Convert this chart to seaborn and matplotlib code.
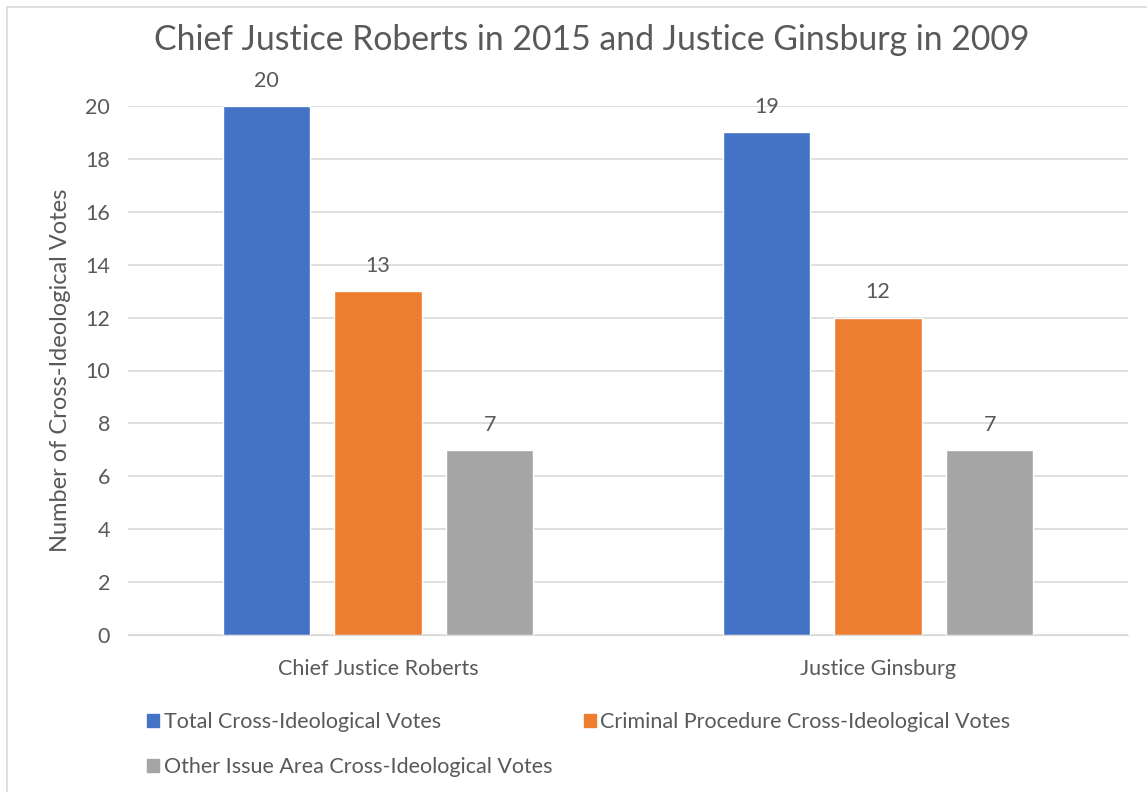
import pandas as pd
import numpy as np
import matplotlib
matplotlib.use("Agg")
import matplotlib.pyplot as plt
import seaborn as sns
from matplotlib.patches import Rectangle, Patch

# ---------------- data ----------------
justices = ["Chief Justice Roberts", "Justice Ginsburg"]
series = ["Total Cross-Ideological Votes",
          "Criminal Procedure Cross-Ideological Votes",
          "Other Issue Area Cross-Ideological Votes"]
total_votes = [20, 19]
criminal_votes = [13, 12]
other_votes = [7, 7]
colors = ["#4472C4", "#ED7D31", "#A5A5A5"]

rows = []
for s, vals in zip(series, [total_votes, criminal_votes, other_votes]):
    for j, v in zip(justices, vals):
        rows.append({"Justice": j, "Series": s, "Votes": v})
df = pd.DataFrame(rows)

# ---------------- plot ----------------
sns.set_style("white")
plt.rcParams["font.family"] = ["Lato", "DejaVu Sans"]
text_col = "#595959"
fs = 15.5

fig = plt.figure(figsize=(11.47, 7.92), dpi=100)
ax = fig.add_axes([128 / 1147, 1 - 635 / 792, 1000 / 1147, (635 - 106) / 792])

sns.barplot(data=df, x="Justice", y="Votes", hue="Series", order=justices,
            hue_order=series, palette=colors, width=0.67, gap=0.22,
            saturation=1, legend=False, ax=ax)

for c in ax.containers:
    ax.bar_label(c, padding=11, fontsize=fs, color=text_col)

ax.set_ylim(0, 20)
ax.set_yticks(range(0, 21, 2))
ax.yaxis.grid(True, color="#d9d9d9", linewidth=1.2)
ax.set_axisbelow(True)
for sp in ["top", "right", "left"]:
    ax.spines[sp].set_visible(False)
ax.spines["bottom"].set_color("#d9d9d9")
ax.tick_params(axis="both", length=0, labelsize=fs, labelcolor=text_col)
ax.tick_params(axis="x", pad=17)
ax.tick_params(axis="y", pad=13)
ax.set_xlabel("")
ax.set_ylabel("Number of Cross-Ideological Votes", fontsize=17, color=text_col, labelpad=10)

fig.text(0.516, 1 - 40 / 792, "Chief Justice Roberts in 2015 and Justice Ginsburg in 2009",
         ha="center", va="center", fontsize=24.3, color=text_col)

# legend: order so columns fill as row1: total, criminal; row2: other
handles = [Patch(color=colors[0]), Patch(color=colors[2]), Patch(color=colors[1])]
labels = [series[0], series[2], series[1]]
fig.legend(handles, labels, ncol=2, loc="upper left",
           bbox_to_anchor=(128 / 1147, 1 - 693 / 792), frameon=False,
           fontsize=fs, labelcolor=text_col, handlelength=0.55, handleheight=0.55,
           handletextpad=0.2, columnspacing=1.5, labelspacing=1.15)

# outer chart border
fig.patches.append(Rectangle((7 / 1147, -0.1), 1.2, 1 - 7 / 792 + 0.1,
                             transform=fig.transFigure, fill=False,
                             edgecolor="#d9d9d9", linewidth=1.2))

fig.savefig("out.png", dpi=100)
